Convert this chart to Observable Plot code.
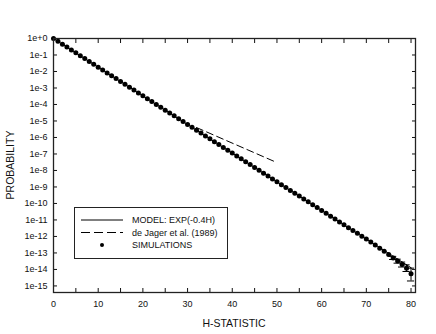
<!DOCTYPE html>
<html>
<head>
<meta charset="utf-8">
<script src="https://cdn.jsdelivr.net/npm/d3@7"></script>
<script src="https://cdn.jsdelivr.net/npm/@observablehq/plot@0.6"></script>
<style>
  html, body { margin: 0; padding: 0; background: #fff; }
  #chart { width: 436px; height: 334px; }
  svg { font-family: "Liberation Sans", Arial, sans-serif; }
</style>
</head>
<body>
<div id="chart"></div>
<script>
// Model line: P = exp(-0.4 H)
const modelH = [0, 80];
const modelP = [1, 1.27e-14];

// de Jager et al. (1989)
const jagerH = [32, 50];
const jagerP = [4.0e-6, 3.0e-8];

// Simulations (H = 0..80)
const simH = [0,1,2,3,4,5,6,7,8,9,10,11,12,13,14,15,16,17,18,19,20,21,22,23,24,25,26,27,28,29,30,31,32,33,34,35,36,37,38,39,40,41,42,43,44,45,46,47,48,49,50,51,52,53,54,55,56,57,58,59,60,61,62,63,64,65,66,67,68,69,70,71,72,73,74,75,76,77,78,79,80];
const simP = [1, 0.670, 0.449, 0.301, 0.202, 0.135, 0.0907, 0.0608, 0.0408, 0.0273,
  0.0183, 0.0123, 0.00823, 0.00552, 0.00370, 0.00248, 0.00166, 0.00111, 7.47e-4, 5.00e-4,
  3.35e-4, 2.25e-4, 1.51e-4, 1.01e-4, 6.77e-5, 4.54e-5, 3.04e-5, 2.04e-5, 1.37e-5, 9.16e-6,
  6.14e-6, 4.12e-6, 2.76e-6, 1.85e-6, 1.24e-6, 8.32e-7, 5.57e-7, 3.74e-7, 2.50e-7, 1.68e-7,
  1.13e-7, 7.54e-8, 5.05e-8, 3.39e-8, 2.27e-8, 1.52e-8, 1.02e-8, 6.84e-9, 4.59e-9, 3.07e-9,
  2.06e-9, 1.38e-9, 9.25e-10, 6.20e-10, 4.16e-10, 2.79e-10, 1.87e-10, 1.25e-10, 8.39e-11, 5.63e-11,
  3.78e-11, 2.53e-11, 1.70e-11, 1.14e-11, 7.62e-12, 5.11e-12, 3.42e-12, 2.30e-12, 1.54e-12, 1.03e-12,
  6.91e-13, 4.63e-13, 3.0e-13, 1.95e-13, 1.25e-13, 8.0e-14, 5.0e-14, 3.2e-14, 2.0e-14, 1.2e-14, 5.5e-15];

// Error bars on the last simulation points
const errH  = [76, 77, 78, 79, 80];
const errLo = [4.0e-14, 2.4e-14, 1.4e-14, 7.5e-15, 2.0e-15];
const errHi = [6.2e-14, 4.2e-14, 2.8e-14, 1.9e-14, 1.2e-14];

// Axis ticks
const xLabelTicks = [0, 10, 20, 30, 40, 50, 60, 70, 80];
const xMinorTicks = [0, 5, 10, 15, 20, 25, 30, 35, 40, 45, 50, 55, 60, 65, 70, 75, 80];
const yExponents = [0, -1, -2, -3, -4, -5, -6, -7, -8, -9, -10, -11, -12, -13, -14, -15];
const yTicks = yExponents.map(e => Math.pow(10, e));

const legendLabels = ["MODEL: EXP(-0.4H)", "de Jager et al. (1989)", "SIMULATIONS"];

const model = modelH.map((h, i) => ({h, p: modelP[i]}));
const jager = jagerH.map((h, i) => ({h, p: jagerP[i]}));
const sims = simH.map((h, i) => ({h, p: simP[i]}));
const errs = errH.map((h, i) => ({h, lo: errLo[i], hi: errHi[i]}));

const fmtY = d => { const e = Math.round(Math.log10(d)); return "1e" + (e >= 0 ? "+" + e : e); };

const chart = Plot.plot({
  width: 436,
  height: 334,
  marginLeft: 53,
  marginRight: 21,
  marginTop: 38,
  marginBottom: 42,
  style: {fontFamily: '"Liberation Sans", Arial, sans-serif', fontSize: "9px", color: "#111", background: "#fff"},
  x: {domain: [0, 81]},
  y: {type: "log", domain: [4e-16, 1]},
  marks: [
    Plot.axisX({ticks: xMinorTicks, tickSize: -4, tickFormat: () => "", label: null}),
    Plot.axisX({anchor: "top", ticks: xMinorTicks, tickSize: -4, tickFormat: () => "", label: null}),
    Plot.axisX({ticks: xLabelTicks, tickSize: 0, tickPadding: 8, tickFormat: d => d, label: null}),
    Plot.axisY({ticks: yTicks, tickSize: -4, tickFormat: () => "", label: null}),
    Plot.axisY({anchor: "right", ticks: yTicks, tickSize: -4, tickFormat: () => "", label: null}),
    Plot.axisY({ticks: yTicks, tickSize: 0, tickPadding: 6, tickFormat: fmtY, label: null}),
    Plot.line(model, {x: "h", y: "p", stroke: "#000", strokeWidth: 1}),
    Plot.line(jager, {x: "h", y: "p", stroke: "#000", strokeWidth: 1, strokeDasharray: "7,4"}),
    Plot.ruleX(errs, {x: "h", y1: "lo", y2: "hi", stroke: "#000", strokeWidth: 1}),
    Plot.ruleY(errs, {y: "lo", x1: d => d.h - 0.8, x2: d => d.h + 0.8, stroke: "#000", strokeWidth: 1}),
    Plot.ruleY(errs, {y: "hi", x1: d => d.h - 0.8, x2: d => d.h + 0.8, stroke: "#000", strokeWidth: 1}),
    Plot.dot(sims, {x: "h", y: "p", r: 2.5, fill: "#000", stroke: null}),
    Plot.frame({stroke: "#222", strokeWidth: 1.3})
  ]
});

const svg = d3.select(chart);
// Axis titles
svg.append("text").attr("x", 234).attr("y", 323).attr("text-anchor", "middle").attr("dy", "0.35em")
  .attr("font-size", "10.5px").attr("fill", "#111").text("H-STATISTIC");
svg.append("text").attr("transform", "translate(10,165) rotate(-90)").attr("text-anchor", "middle").attr("dy", "0.35em")
  .attr("font-size", "10.5px").attr("fill", "#111").text("PROBABILITY");

// Legend box inside the plot
const g = svg.append("g").attr("font-family", '"Liberation Sans", Arial, sans-serif').attr("font-size", "9px");
g.append("rect").attr("x", 74.5).attr("y", 207.5).attr("width", 153).attr("height", 51)
  .attr("fill", "#fff").attr("stroke", "#222").attr("stroke-width", 1);
const rowsY = [220, 232.5, 245];
g.append("line").attr("x1", 81).attr("x2", 123).attr("y1", rowsY[0]).attr("y2", rowsY[0]).attr("stroke", "#000");
g.append("line").attr("x1", 81).attr("x2", 123).attr("y1", rowsY[1]).attr("y2", rowsY[1]).attr("stroke", "#000").attr("stroke-dasharray", "9,4");
g.append("circle").attr("cx", 102).attr("cy", rowsY[2]).attr("r", 2).attr("fill", "#000");
legendLabels.forEach((t, i) => {
  g.append("text").attr("x", 132).attr("y", rowsY[i]).attr("dy", "0.35em").attr("text-anchor", "start").attr("fill", "#111").text(t);
});

document.getElementById("chart").appendChild(chart);
</script>
</body>
</html>
